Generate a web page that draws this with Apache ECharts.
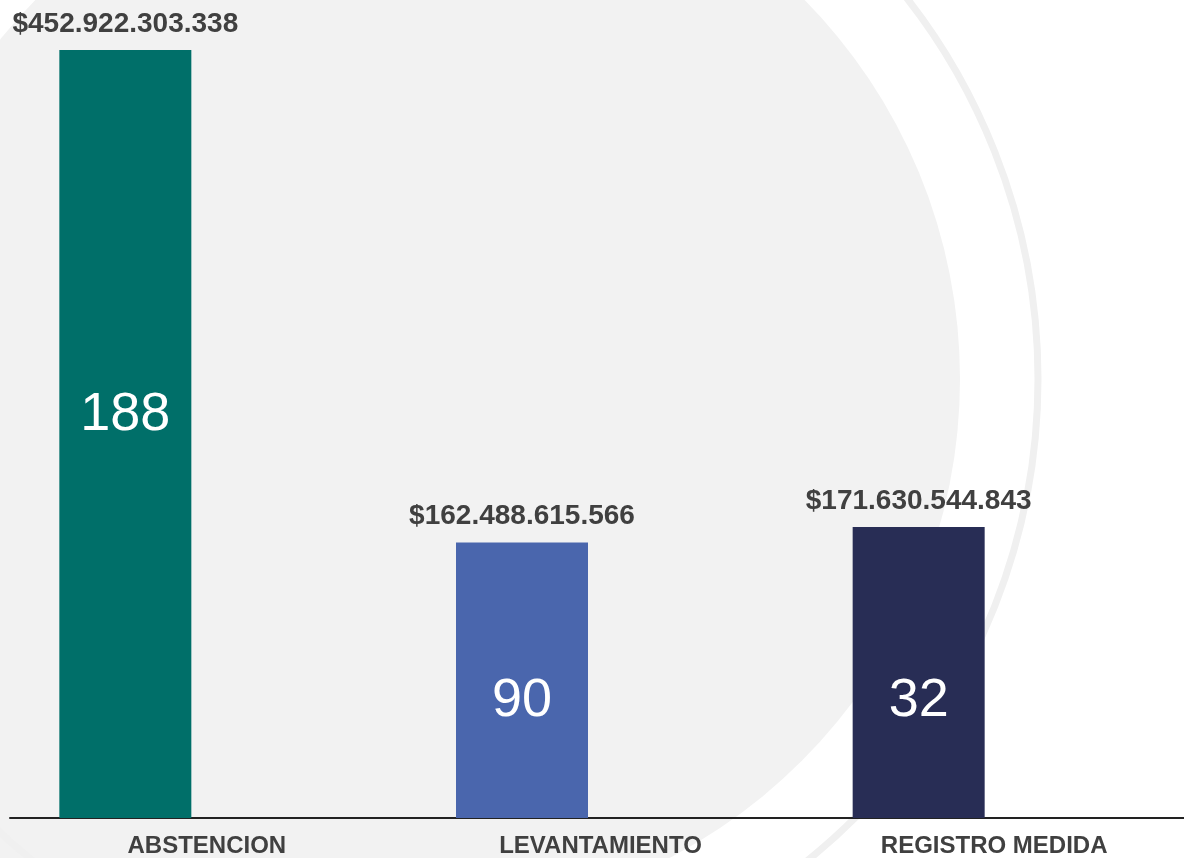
<!DOCTYPE html>
<html>
<head>
<meta charset="utf-8">
<script src="https://cdn.jsdelivr.net/npm/echarts@6/dist/echarts.min.js"></script>
<style>
  html, body { margin: 0; padding: 0; background: #ffffff; }
  #chart { width: 1184px; height: 858px; }
</style>
</head>
<body>
<div id="chart"></div>
<script>
// datos del grafico
const categorias = ['ABSTENCION', 'LEVANTAMIENTO', 'REGISTRO MEDIDA']
const montos = [452922303338, 162488615566, 171630544843]
const cantidades = [188, 90, 32]

const palette = ['#006f69', '#4a66ad', '#282d55']
const textColor = '#404040'
const fondo = '#f2f2f2'
const font = '"Liberation Sans", Arial, sans-serif'

// $452.922.303.338
const formatMonto = (v) => '$' + String(Math.round(v)).replace(/\B(?=(\d{3})+(?!\d))/g, '.')

const yMax = 480e9

const chart = echarts.init(document.getElementById('chart'))

chart.setOption({
  backgroundColor: '#ffffff',
  animation: false,
  textStyle: { fontFamily: font },
  // decoracion de fondo: circulo gris con un aro exterior
  graphic: [
    {
      type: 'circle',
      silent: true,
      z: -10,
      shape: { cx: 420, cy: 379, r: 540 },
      style: { fill: fondo }
    },
    {
      type: 'rect',
      silent: true,
      z: -10,
      shape: { x: 0, y: 380, width: 300, height: 478 },
      style: { fill: fondo }
    },
    {
      type: 'circle',
      silent: true,
      z: -9,
      shape: { cx: 420, cy: 379, r: 618 },
      style: { fill: 'none', stroke: '#f0f0f0', lineWidth: 7 }
    }
  ],
  grid: [
    // eje con etiquetas
    { left: 10, right: -7, top: 4, bottom: 40, outerBoundsMode: 'none' },
    // barras (desplazadas a la izquierda de la etiqueta)
    { left: -73, right: 67, top: 4, bottom: 40, outerBoundsMode: 'none' }
  ],
  xAxis: [
    {
      type: 'category',
      gridIndex: 0,
      data: categorias,
      axisLine: { lineStyle: { color: '#222222', width: 2 } },
      axisTick: { show: false },
      axisLabel: {
        color: textColor,
        fontSize: 24,
        fontWeight: 'bold',
        fontFamily: font,
        margin: 16
      }
    },
    {
      type: 'category',
      gridIndex: 1,
      data: categorias,
      show: false
    }
  ],
  yAxis: [
    { type: 'value', gridIndex: 0, min: 0, max: yMax, show: false, splitLine: { show: false } },
    { type: 'value', gridIndex: 1, min: 0, max: yMax, show: false, splitLine: { show: false } }
  ],
  series: [
    {
      name: 'Monto',
      type: 'bar',
      xAxisIndex: 1,
      yAxisIndex: 1,
      barWidth: 132,
      data: montos.map((v, i) => ({ value: v, itemStyle: { color: palette[i] } })),
      label: {
        show: true,
        position: 'top',
        distance: 12,
        color: textColor,
        fontSize: 28,
        fontWeight: 'bold',
        fontFamily: font,
        formatter: (p) => formatMonto(p.value)
      }
    },
    {
      name: 'Cantidad',
      type: 'bar',
      xAxisIndex: 1,
      yAxisIndex: 1,
      barWidth: 132,
      barGap: '-100%',
      silent: true,
      // la barra alta lleva la cifra cerca del centro, las bajas a altura fija
      data: montos.map((v, i) => (i === 0
        ? { value: v, label: { position: 'inside', offset: [0, -19] } }
        : v)),
      itemStyle: { color: 'rgba(0,0,0,0)' },
      label: {
        show: true,
        position: 'insideBottom',
        distance: 90,
        color: '#ffffff',
        fontSize: 54,
        fontFamily: font,
        formatter: (p) => String(cantidades[p.dataIndex])
      }
    }
  ]
})

window.addEventListener('resize', () => chart.resize())
</script>
</body>
</html>
